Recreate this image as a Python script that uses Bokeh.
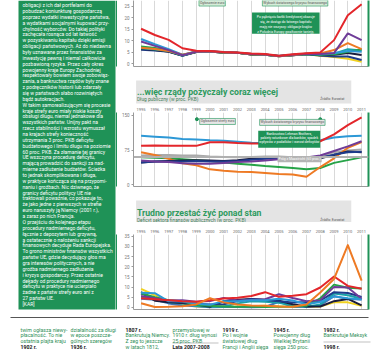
from bokeh.plotting import figure
from bokeh.layouts import row, column
from bokeh.models import Range1d, FixedTicker, LinearAxis, Span, Label, BoxAnnotation, ColumnDataSource
from bokeh.embed import file_html
from bokeh.resources import INLINE
from bokeh.core.properties import value

FONT = "Roboto"
GREEN = "#1f9257"
TGREEN = "#2e9a5e"

years = [1995, 1996, 1997, 1998, 1999, 2000, 2001, 2002, 2003, 2004, 2005, 2006, 2007, 2008, 2009, 2010, 2011]

# ---- chart 1: bond yields (%)
yld_gr = [15.2, 12.5, 10.4, 6.8, 5.7, 5.6, 5.2, 5.0, 4.5, 4.3, 3.6, 4.2, 4.6, 5.0, 10.3, 21.0, 25.8]
yld_it = [10.8, 8.5, 6.4, 4.0, 5.4, 5.5, 5.1, 4.9, 4.3, 4.1, 3.4, 4.0, 4.4, 4.2, 4.6, 5.6, 5.3]
yld_pt = [9.7, 7.8, 6.0, 3.8, 5.3, 5.5, 5.1, 4.9, 4.3, 4.1, 3.4, 4.0, 4.4, 4.3, 4.7, 13.2, 10.3]
yld_ie = [7.0, 6.5, 5.6, 4.0, 5.3, 5.5, 5.0, 4.9, 4.2, 4.1, 3.3, 3.9, 4.4, 4.5, 6.0, 9.0, 6.4]
yld_es = [7.5, 6.9, 5.9, 3.9, 5.3, 5.5, 5.0, 4.8, 4.2, 4.0, 3.4, 3.9, 4.3, 4.1, 4.2, 5.3, 6.3]
yld_be = [6.8, 6.2, 5.6, 3.7, 5.3, 5.4, 5.0, 4.8, 4.2, 4.0, 3.3, 3.9, 4.3, 4.0, 4.4, 6.4, 5.8]
yld_fr = [6.6, 6.0, 5.4, 3.6, 5.2, 5.4, 4.9, 4.8, 4.1, 4.0, 3.4, 3.8, 4.3, 3.8, 4.0, 4.7, 3.9]
yld_fi = [6.4, 6.0, 5.4, 3.6, 5.2, 5.4, 4.9, 4.8, 4.1, 4.0, 3.3, 3.8, 4.2, 3.6, 3.0, 2.3, 1.0]
yld_de = [6.2, 5.8, 5.3, 3.5, 5.2, 5.4, 4.9, 4.8, 4.1, 4.0, 3.3, 3.8, 4.2, 3.7, 3.2, 3.2, 1.7]
yld_ticks = [0, 5, 10, 15, 20, 25]

# ---- chart 2: public debt (% GDP)
debt_gr = [84, 85, 84, 84, 84, 92, 92, 90, 89, 89, 90, 90, 89, 94, 109, 129, 146]
debt_it = [106, 104, 102, 99, 98, 96, 95, 93, 91, 90, 91, 92, 92, 96, 102, 105, 106]
debt_pt = [52, 50, 49, 46, 45, 45, 47, 49, 50, 52, 55, 56, 59, 63, 73, 83, 94]
debt_fr = [48, 50, 50, 50, 51, 50, 50, 51, 54, 56, 57, 57, 56, 58, 65, 70, 71]
debt_de = [48, 50, 51, 52, 53, 52, 51, 53, 56, 57, 59, 58, 57, 57, 64, 72, 70]
debt_ie = [70, 64, 56, 46, 42, 33, 30, 28, 27, 25, 23, 22, 17, 38, 57, 80, 92]
debt_es = [59, 58, 57, 55, 53, 51, 48, 45, 43, 40, 38, 36, 33, 36, 47, 53, 59]
debt_ez = [63, 64, 64, 63, 63, 61, 60, 59, 60, 61, 61, 59, 57, 61, 70, 74, 76]
debt_ticks = [0, 75, 150]
maastricht = 60

# ---- chart 3: deficit (% GDP)
def_ie = [2.1, 0.2, 0.3, 0.6, 1.5, 4.6, 2.5, 1.5, 1.0, 0.8, 0.5, 0.4, 1.5, 7.3, 14.0, 30.6, 13.2]
def_gr = [4.5, 4.0, 3.5, 3.0, 2.8, 3.5, 4.4, 4.8, 5.6, 7.5, 5.2, 5.7, 6.5, 9.8, 15.2, 10.6, 9.2]
def_it = [7.2, 7.0, 3.0, 3.0, 1.8, 1.3, 3.1, 3.0, 3.5, 3.5, 4.3, 3.4, 1.6, 2.7, 5.4, 4.5, 3.9]
def_pt = [5.6, 4.5, 3.4, 3.5, 2.8, 3.2, 4.7, 3.4, 3.7, 4.0, 6.5, 4.6, 3.1, 3.6, 10.1, 9.8, 4.3]
def_es = [7.0, 5.0, 3.5, 3.0, 1.2, 0.9, 0.5, 0.3, 0.3, 0.2, 0.4, 0.5, 0.8, 4.5, 11.2, 9.7, 9.3]
def_fr = [6.8, 4.5, 3.3, 2.6, 1.8, 1.5, 1.6, 3.2, 4.1, 3.6, 3.0, 2.4, 2.7, 3.3, 7.5, 7.1, 5.2]
def_de = [7.5, 3.3, 2.6, 2.2, 1.5, 0.3, 3.1, 3.8, 4.2, 3.8, 3.3, 1.6, 0.5, 0.5, 3.1, 4.2, 1.0]
def_fi = [9.1, 6.0, 3.0, 1.5, 0.5, 0.3, 0.5, 0.4, 0.6, 0.8, 0.5, 0.3, 0.2, 0.5, 2.5, 2.5, 0.8]
def_be = [5.0, 3.9, 2.5, 2.0, 0.7, 0.3, 0.5, 2.0, 3.1, 2.8, 2.3, 1.0, 0.3, 1.5, 6.8, 6.0, 4.3]
def_nl = [4.3, 3.8, 2.0, 1.0, 0.6, 0.1, 0.2, 0.2, 0.1, 0.2, 2.8, 0.3, 0.2, 1.0, 5.6, 4.1, 3.9]
def_ticks = [0, 5, 10, 15, 20, 25, 30, 35]

article_lines = [
    "obligacji z ich dał portfelami do",
    "pobudzać koniunkturę gospodarczą",
    "poprzez wydatki inwestycyjne państwa,",
    "a wydatkami socjalnymi kupować przy-",
    "chylność wyborców. Do takiej polityki",
    "zachęcała rosnąca od lat łatwość",
    "w pozyskiwaniu kapitału dzięki emisji",
    "obligacji państwowych. Aż do niedawna",
    "były uznawane przez finansistów za",
    "inwestycję pewną i niemal całkowicie",
    "pozbawioną ryzyka. Przez cały okres",
    "powojenny kraje Europy Zachodniej",
    "respektowały bowiem swoje zobowiąz-",
    "zania, a bankructwa rządów były znane",
    "z podręczników historii lub zdarzały",
    "się w państwach słabo rozwiniętych",
    "bądź autokracjach.",
    "W takim samorealizującym się procesie",
    "kraje strefy euro miały niskie koszty",
    "obsługi długu, niemal jednakowe dla",
    "wszystkich państw. Unijny pakt na",
    "rzecz stabilności i wzrostu wymuszał",
    "na krajach strefy konieczność",
    "utrzymania 3 proc. PKB deficytu",
    "budżetowego i limitu długu na poziomie",
    "60 proc. PKB. Za złamanie tej granicy",
    "UE wszczyna procedurę deficytu,",
    "mającą prowadzić do sankcji za nad-",
    "mierne zadłużenie budżetów. Ścieżka",
    "to jednak skomplikowana i długa,",
    "w praktyce kończąca się na przypomi-",
    "naniu i groźbach. Nic dziwnego, że",
    "granicy deficytu politycy UE nie",
    "traktowali poważnie, co pokazuje to,",
    "że jako jedne z pierwszych w strefie",
    "euro naruszyły ją Niemcy (2001 r.),",
    "a zaraz po nich Francja.",
    "O przejściu do kolejnego etapu",
    "procedury nadmiernego deficytu,",
    "łącznie z depozytem lub grzywną,",
    "a ostatecznie o nałożeniu sankcji",
    "finansowych decyduje Rada Europejska.",
    "To grono ministrów finansów wszystkich",
    "państw UE, gdzie decydujący głos ma",
    "gra interesów politycznych, a nie",
    "groźba nadmiernego zadłużenia",
    "i kryzys gospodarczy. Przez ostatnie",
    "dekady od procedury nadmiernego",
    "deficytu w praktyce nie ucierpiało",
    "żadne z państw strefy euro ani z",
    "27 państw UE.",
    "[KAR]",
]

strip_cols = [
    ["twim ogłasza niewy-", "płacalność. To nie", "ostatnia plajta kraju", "1902 r."],
    ["działalność za długi", "w epoce poszcze-", "gólnych szeregów", "1936 r."],
    ["1807 r.", "Bankrutują Niemcy.", "Z zeg to jeszcze", "w latach 1812,"],
    ["przemysłowej w", "1910 r. dług wynosi", "25 proc. PKB", "Lata 2007-2008"],
    ["1919 r.", "Po I wojnie", "światowej dług", "Francji i Anglii sięga"],
    ["1945 r.", "Powojenny dług", "Wielkiej Brytanii", "sięga 250 proc."],
    ["1982 r.", "Bankrutuje Meksyk", None, "1998 r."],
]
strip_bold = [
    [False, False, False, True],
    [False, False, False, True],
    [True, False, False, False],
    [False, False, False, True],
    [True, False, False, False],
    [True, False, False, False],
    [True, False, False, True],
]

AX = "#9a9a9a"


def chart(height, ymin, ymax, yticks, top, bottom, years_on_top):
    p = figure(width=273, height=height, x_range=Range1d(1994.45, 2011.5),
               y_range=Range1d(ymin, ymax), output_backend="svg", toolbar_location=None,
               min_border_left=16, min_border_right=22, min_border_top=top, min_border_bottom=bottom,
               x_axis_location="above" if years_on_top else None,
               background_fill_color="white", border_fill_color="white", outline_line_color=None)
    p.xgrid.ticker = FixedTicker(ticks=years)
    p.xgrid.grid_line_color = "#d9d9d9"
    p.xgrid.grid_line_width = 1
    p.ygrid.grid_line_color = None
    if years_on_top:
        p.xaxis.ticker = FixedTicker(ticks=years)
        p.xaxis.minor_tick_line_color = None
        p.xaxis.major_tick_line_color = None
        p.xaxis.major_tick_out = 0
        p.xaxis.major_label_text_font_size = "4px"
        p.xaxis.major_label_text_color = "#666666"
        p.xaxis.major_label_text_font = FONT
        p.xaxis.major_label_standoff = 2
        p.xaxis.axis_line_color = None
    b = LinearAxis(ticker=FixedTicker(ticks=[]), axis_line_color=AX,
                   major_tick_out=0, minor_tick_out=0, major_label_standoff=0)
    p.add_layout(b, "below")
    p.yaxis.ticker = FixedTicker(ticks=yticks)
    p.yaxis.major_label_text_font_size = "4.5px"
    p.yaxis.major_label_text_font = FONT
    p.yaxis.major_label_text_color = "#777777"
    p.yaxis.axis_line_color = AX
    p.yaxis.major_tick_line_color = AX
    p.yaxis.major_tick_out = 2
    p.yaxis.major_tick_in = 0
    p.yaxis.minor_tick_line_color = None
    p.yaxis.major_label_standoff = 2
    r = LinearAxis(ticker=FixedTicker(ticks=[]), axis_line_color=GREEN, axis_line_width=2,
                   major_tick_out=0, minor_tick_out=0, major_label_standoff=0)
    p.add_layout(r, "right")
    return p


def lines(p, series):
    for vals, col in series:
        p.line(years, vals, line_color=col, line_width=2, line_join="round")


def tag(p, x, y, txt, fill, tcol, border=True):
    p.add_layout(Label(x=x, y=y, text=txt, text_font=FONT, text_font_size="3.4px", text_color=tcol,
                       background_fill_color=fill, border_line_color=GREEN if border else None,
                       border_line_width=0.6, padding=1, text_align="left", text_baseline="middle"))


RED, LBLUE, PURPLE, ORANGE = "#e3262b", "#2c98d6", "#6f3c98", "#ee7a24"
GRN, NAVY, DARK, TEAL = "#26a347", "#1e3c8c", "#1b1d3d", "#1aa3a8"
YEL, STEEL, GRAY = "#f1d220", "#4672b8", "#b4b4b4"

# ---- chart 1
p1 = chart(78, -1.08, 27.4, yld_ticks, 0, 12, False)
lines(p1, [(yld_fi, YEL), (yld_de, NAVY), (yld_fr, DARK), (yld_be, TEAL), (yld_es, GRN),
           (yld_it, LBLUE), (yld_ie, ORANGE), (yld_pt, PURPLE), (yld_gr, RED)])
tag(p1, 1999.2, 26.3, "Ogłoszenie euro", "#d6ecd9", "#555555")
tag(p1, 2003.8, 26.3, "Wybuch światowego kryzysu finansowego", "#d6ecd9", "#555555")
p1.add_layout(BoxAnnotation(left=2003.05, right=2007.95, bottom=13.1, top=22.2, fill_color=GREEN,
                            fill_alpha=1, line_color=None))
box1 = ["Po pęknięciu bańki kredytowej okazuje", "się, że dostęp do łatwego kapitału",
        "mają nie wszyscy: obligacje krajów", "z Południa Europy gwałtownie tanieją."]
for i, t in enumerate(box1):
    p1.add_layout(Label(x=2005.5, y=20.3 - i * 2.1, text=t, text_font=FONT, text_font_size="3.4px",
                        text_color="white", text_align="center", text_baseline="middle"))


def band(height, gtop, gbot, title, sub, tb, sb):
    b = figure(width=273, height=height, x_range=Range1d(0, 273), y_range=Range1d(height, 0),
               output_backend="svg", toolbar_location=None, min_border=0,
               background_fill_color="white", border_fill_color="white", outline_line_color=None)
    b.axis.visible = False
    b.grid.visible = False
    b.quad(left=3, right=253, top=gtop, bottom=gbot, fill_color="#e4e4e4", line_color=None)
    b.add_layout(Label(x=4, y=tb, text=title, text_font=FONT, text_font_size="8.7px",
                       text_font_style="bold", text_color=TGREEN, text_baseline="alphabetic"))
    b.add_layout(Label(x=4, y=sb, text=sub, text_font=FONT, text_font_size="4.8px",
                       text_color="#3f7d58", text_baseline="alphabetic"))
    b.add_layout(Label(x=245, y=sb, text="Źródło: Eurostat", text_font=FONT, text_font_size="3.4px",
                       text_color="#555555", text_align="right", text_baseline="alphabetic"))
    return b


b2 = band(26, 2, 25, "...więc rządy pożyczały coraz więcej", "Dług publiczny (w proc. PKB)", 13, 20.5)

# ---- chart 2
p2 = chart(91, -4.3, 156.5, debt_ticks, 8, 9, True)
p2.add_layout(Span(location=maastricht, dimension="width", line_color="#b0b0b0", line_width=2))
lines(p2, [(debt_ez, "#a9a9a9"), (debt_es, GRN), (debt_ie, ORANGE), (debt_de, DARK), (debt_fr, NAVY),
           (debt_pt, PURPLE), (debt_it, LBLUE), (debt_gr, RED)])
tag(p2, 1999.25, 137, "Ogłoszenie strefy euro", "#e6e6e6", "#555555")
tag(p2, 2003.6, 135, "Wybuch światowego kryzysu finansowego", "#e6e6e6", "#555555")
p2.scatter([1999.05, 2008.0], [142, 142], size=3, color=GREEN)
p2.add_layout(BoxAnnotation(left=2003.5, right=2008.0, bottom=80, top=117, fill_color=GREEN,
                            fill_alpha=1, line_color=None))
box2 = ["Bankructwo Lehman Brothers,", "pakiety ratunkowe dla banków, spadek",
        "wpływów z podatków i wzrost deficytów"]
for i, t in enumerate(box2):
    p2.add_layout(Label(x=2005.75, y=110 - i * 9, text=t, text_font=FONT, text_font_size="3.4px",
                        text_color="white", text_align="center", text_baseline="middle"))
tag(p2, 2004.9, 55, "Próg z Maastricht (60 proc.)", "#b4b4b4", "white", border=False)

b3 = band(27, 5, 27, "Trudno przestać żyć ponad stan",
          "Deficyt sektora finansów publicznych (w proc. PKB)", 17, 24.5)

# ---- chart 3
p3 = chart(90, -1.0, 35.8, def_ticks, 12, 3, True)
lines(p3, [(def_fi, YEL), (def_nl, STEEL), (def_be, TEAL), (def_de, DARK), (def_fr, NAVY),
           (def_es, GRN), (def_pt, PURPLE), (def_it, LBLUE), (def_gr, RED), (def_ie, ORANGE)])

# ---- left text column
left = figure(width=117, height=312, x_range=Range1d(0, 117), y_range=Range1d(312, 0),
              output_backend="svg", toolbar_location=None, min_border=0,
              background_fill_color="white", border_fill_color="white", outline_line_color=None)
left.axis.visible = False
left.grid.visible = False
left.quad(left=18, right=115, top=0, bottom=309, fill_color=GREEN, line_color=None)
left.quad(left=[115.5, 115.5, 115.5], right=[117, 117, 117], top=[0, 112, 234], bottom=[66, 186, 309],
          fill_color=GREEN, line_color=None)
src = ColumnDataSource(dict(x=[22] * len(article_lines),
                            y=[4.6 + i * 5.86 for i in range(len(article_lines))],
                            t=article_lines))
left.text(x="x", y="y", text="t", source=src, text_font=value(FONT), text_font_size="5px",
          text_color="white", text_baseline="alphabetic")

# ---- bottom strip
strip = figure(width=390, height=38, x_range=Range1d(0, 390), y_range=Range1d(38, 0),
               output_backend="svg", toolbar_location=None, min_border=0,
               background_fill_color="white", border_fill_color="white", outline_line_color=None)
strip.axis.visible = False
strip.grid.visible = False
strip.segment(x0=[10], y0=[5], x1=[368], y1=[5], line_color="#555555", line_width=1)
strip.segment(x0=[172, 323], y0=[30.5, 29.5], x1=[218, 370], y1=[30.5, 29.5], line_color="#999999",
              line_width=0.6)
col_x = [20, 70, 125, 172, 222, 273, 323]
for cx, col, bold in zip(col_x, strip_cols, strip_bold):
    for j, (t, bb) in enumerate(zip(col, bold)):
        if t is None:
            continue
        strip.add_layout(Label(x=cx, y=17 + j * 5.8, text=t, text_font=FONT,
                               text_font_size="5.2px", text_font_style="bold" if bb else "normal",
                               text_color="#222222" if bb else "#2f8f58", text_baseline="alphabetic"))

layout = column(row(left, column(p1, b2, p2, b3, p3, spacing=0), spacing=0), strip, spacing=0)
open("out.html", "w").write(file_html(layout, INLINE))
